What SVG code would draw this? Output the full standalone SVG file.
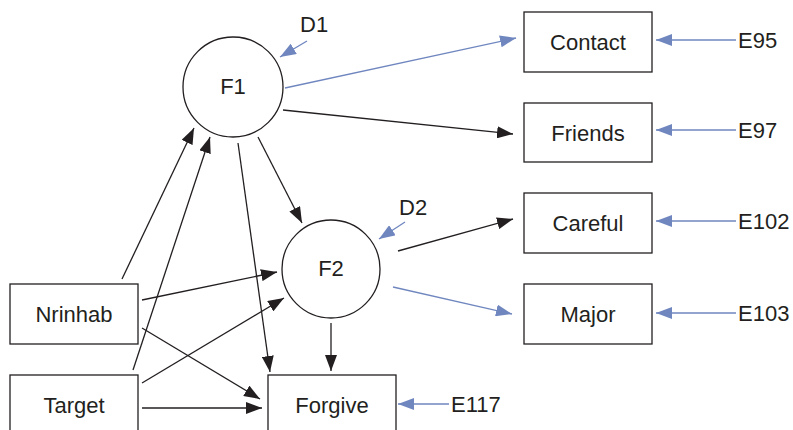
<svg xmlns="http://www.w3.org/2000/svg" width="793" height="430" viewBox="0 0 793 430">
<style>
.box{fill:#fff;stroke:#231f20;stroke-width:1.3}
.t{font-family:"Liberation Sans",Arial,sans-serif;font-size:22px;fill:#231f20;text-anchor:middle}
.tl{font-family:"Liberation Sans",Arial,sans-serif;font-size:22px;fill:#231f20}
.k{stroke:#231f20;stroke-width:1.3;fill:none;marker-end:url(#ak)}
.b{stroke:#6f86bf;stroke-width:1.3;fill:none;marker-end:url(#ab)}
</style>
<defs>
<marker id="ak" viewBox="0 0 16 12" refX="16" refY="6" markerWidth="16" markerHeight="12" markerUnits="userSpaceOnUse" orient="auto"><path d="M0,0 L16,6 L0,12 Z" fill="#231f20"/></marker>
<marker id="ab" viewBox="0 0 16 12" refX="16" refY="6" markerWidth="16" markerHeight="12" markerUnits="userSpaceOnUse" orient="auto"><path d="M0,0 L16,6 L0,12 Z" fill="#6f86bf"/></marker>
</defs>
<g id="connectors">
<line class="b" x1="285" y1="88" x2="516" y2="38"/>
<line class="k" x1="283" y1="110" x2="513" y2="134"/>
<line class="k" x1="258" y1="137" x2="302" y2="223"/>
<line class="k" x1="238" y1="143" x2="270" y2="372"/>
<line class="k" x1="122" y1="279" x2="194" y2="128"/>
<line class="k" x1="133" y1="370" x2="210" y2="137"/>
<line class="k" x1="142" y1="300" x2="277" y2="272"/>
<line class="k" x1="142" y1="383" x2="284" y2="298"/>
<line class="k" x1="142" y1="328" x2="260" y2="399"/>
<line class="k" x1="142" y1="408" x2="262" y2="408"/>
<line class="k" x1="331" y1="323" x2="331" y2="371"/>
<line class="k" x1="398" y1="251" x2="513" y2="219"/>
<line class="b" x1="393" y1="287" x2="512" y2="314"/>
<line class="b" x1="307" y1="41" x2="280" y2="57"/>
<line class="b" x1="405" y1="222" x2="379" y2="239"/>
<line class="b" x1="736" y1="40" x2="656" y2="40"/>
<line class="b" x1="736" y1="130" x2="656" y2="130"/>
<line class="b" x1="736" y1="221" x2="656" y2="221"/>
<line class="b" x1="736" y1="313" x2="656" y2="313"/>
<line class="b" x1="449" y1="404" x2="398" y2="404"/>
</g>
<g id="F1"><circle class="box" cx="233" cy="87" r="50"/><text class="t" x="233" y="94">F1</text></g>
<g id="F2"><circle class="box" cx="331" cy="269" r="49"/><text class="t" x="331" y="276">F2</text></g>
<g id="D1"><text class="tl" x="300" y="32">D1</text></g>
<g id="D2"><text class="tl" x="399" y="215">D2</text></g>
<g id="Contact"><rect class="box" x="524" y="12" width="128" height="60"/><text class="t" x="588" y="50">Contact</text></g>
<g id="Friends"><rect class="box" x="524" y="103" width="128" height="59"/><text class="t" x="588" y="141">Friends</text></g>
<g id="Careful"><rect class="box" x="524" y="193" width="128" height="60"/><text class="t" x="588" y="231">Careful</text></g>
<g id="Major"><rect class="box" x="524" y="284" width="128" height="60"/><text class="t" x="588" y="322">Major</text></g>
<g id="Nrinhab"><rect class="box" x="10" y="284" width="128" height="60"/><text class="t" x="74" y="322">Nrinhab</text></g>
<g id="Target"><rect class="box" x="10" y="375" width="128" height="60"/><text class="t" x="74" y="413">Target</text></g>
<g id="Forgive"><rect class="box" x="268" y="375" width="128" height="60"/><text class="t" x="332" y="413">Forgive</text></g>
<g id="E95"><text class="tl" x="738" y="48">E95</text></g>
<g id="E97"><text class="tl" x="738" y="138">E97</text></g>
<g id="E102"><text class="tl" x="738" y="229">E102</text></g>
<g id="E103"><text class="tl" x="738" y="321">E103</text></g>
<g id="E117"><text class="tl" x="451" y="412">E117</text></g>
</svg>
